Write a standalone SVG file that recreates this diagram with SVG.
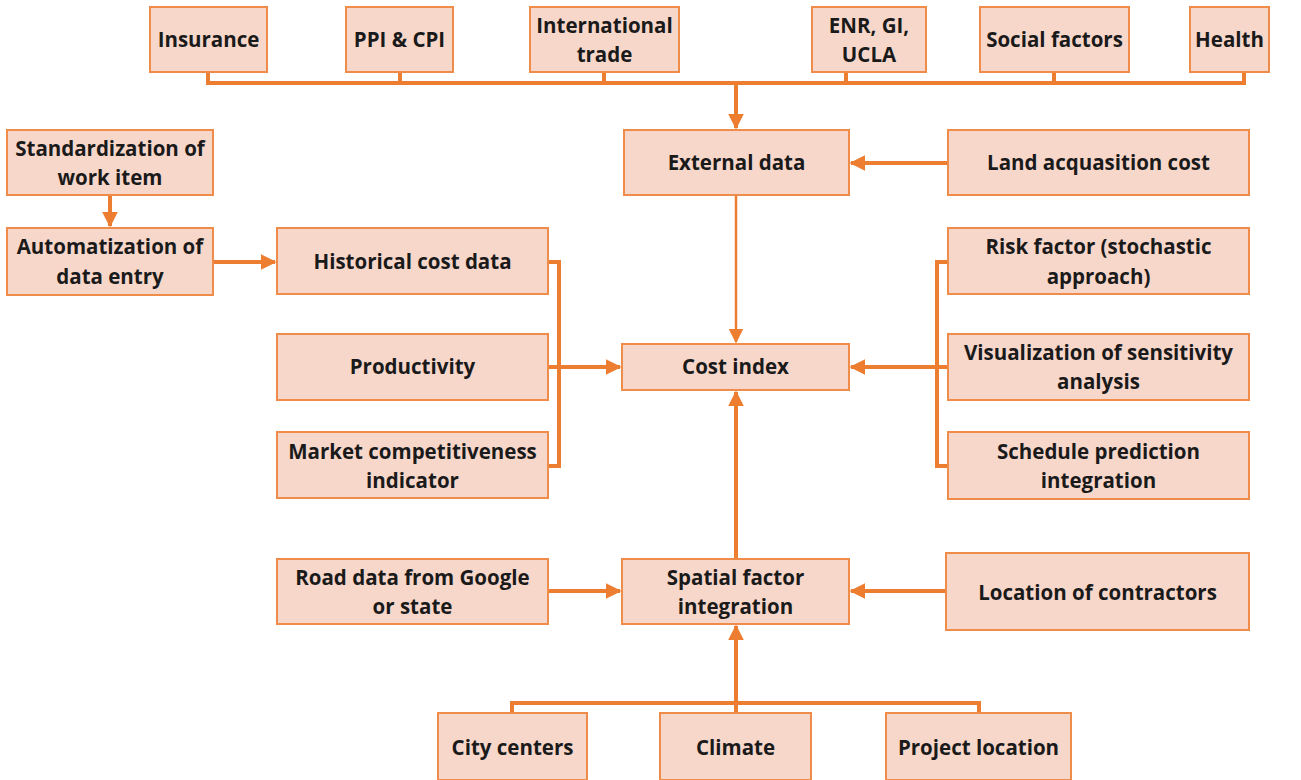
<svg xmlns="http://www.w3.org/2000/svg" width="1301" height="780" viewBox="0 0 1301 780">
<defs>
<style>
.box{fill:#f8d7cb;stroke:#ef8c4a;stroke-width:2}
.t{font-family:"Open Sans","Liberation Sans",sans-serif;font-weight:bold;font-size:20.5px;fill:#1a1a1a;text-anchor:middle}
.c{fill:none;stroke:#ed7d31;stroke-width:4;stroke-linejoin:miter}
.thin{fill:none;stroke:#ed7d31;stroke-width:2.5}
</style>
<marker id="ah" viewBox="0 0 10 10" refX="9" refY="5" markerWidth="4" markerHeight="4" markerUnits="strokeWidth" orient="auto"><path d="M0,0L10,5L0,10z" fill="#ed7d31"/></marker>
<marker id="ah2" viewBox="0 0 10 10" refX="9" refY="5" markerWidth="6" markerHeight="6" markerUnits="strokeWidth" orient="auto"><path d="M0,0L10,5L0,10z" fill="#ed7d31"/></marker>
</defs>
<rect width="1301" height="780" fill="#fff"/>
<g id="connectors">
<path class="c" d="M208,72V83H1244V72M400,72V83M604,72V83M846,72V83M1054,72V83"/>
<path class="c" d="M736,83V128" marker-end="url(#ah)"/>
<path class="c" d="M948,163H851" marker-end="url(#ah)"/>
<path class="c" d="M110,195V226" marker-end="url(#ah)"/>
<path class="c" d="M213,262H275" marker-end="url(#ah)"/>
<path class="c" d="M548,262H559V466H548"/>
<path class="c" d="M548,367H620" marker-end="url(#ah)"/>
<path class="thin" d="M736,195V342" marker-end="url(#ah2)"/>
<path class="c" d="M948,262H937V466H948"/>
<path class="c" d="M948,367H851" marker-end="url(#ah)"/>
<path class="c" d="M736,559V392" marker-end="url(#ah)"/>
<path class="c" d="M548,591H620" marker-end="url(#ah)"/>
<path class="c" d="M946,591H851" marker-end="url(#ah)"/>
<path class="c" d="M512,713V703H979V713"/>
<path class="c" d="M736,713V626" marker-end="url(#ah)"/>
</g>
<g id="insurance"><rect class="box" x="150" y="7" width="117" height="65"/><text class="t" x="208.5" y="47">Insurance</text></g>
<g id="ppi"><rect class="box" x="346" y="7" width="107" height="65"/><text class="t" x="399.5" y="47">PPI &amp; CPI</text></g>
<g id="trade"><rect class="box" x="530" y="7" width="149" height="65"/><text class="t" x="604.5" y="33">International</text><text class="t" x="604.5" y="62">trade</text></g>
<g id="enr"><rect class="box" x="812" y="7" width="114" height="65"/><text class="t" x="869" y="33">ENR, GI,</text><text class="t" x="869" y="62">UCLA</text></g>
<g id="social"><rect class="box" x="980" y="7" width="149" height="65"/><text class="t" x="1054.5" y="47">Social factors</text></g>
<g id="health"><rect class="box" x="1190" y="7" width="79" height="65"/><text class="t" x="1229.5" y="47">Health</text></g>
<g id="external"><rect class="box" x="624" y="130" width="225" height="65"/><text class="t" x="736.5" y="170">External data</text></g>
<g id="land"><rect class="box" x="948" y="130" width="301" height="65"/><text class="t" x="1098.5" y="170">Land acquasition cost</text></g>
<g id="standard"><rect class="box" x="7" y="130" width="206" height="65"/><text class="t" x="110" y="156">Standardization of</text><text class="t" x="110" y="185">work item</text></g>
<g id="auto"><rect class="box" x="7" y="228" width="206" height="67"/><text class="t" x="110" y="254">Automatization of</text><text class="t" x="110" y="284">data entry</text></g>
<g id="historical"><rect class="box" x="277" y="228" width="271" height="66"/><text class="t" x="412.5" y="269">Historical cost data</text></g>
<g id="productivity"><rect class="box" x="277" y="334" width="271" height="66"/><text class="t" x="412.5" y="374">Productivity</text></g>
<g id="market"><rect class="box" x="277" y="432" width="271" height="66"/><text class="t" x="412.5" y="459">Market competitiveness</text><text class="t" x="412.5" y="488">indicator</text></g>
<g id="costindex"><rect class="box" x="622" y="344" width="227" height="46"/><text class="t" x="735.5" y="374">Cost index</text></g>
<g id="risk"><rect class="box" x="948" y="228" width="301" height="66"/><text class="t" x="1098.5" y="254">Risk factor (stochastic</text><text class="t" x="1098.5" y="284">approach)</text></g>
<g id="visual"><rect class="box" x="948" y="334" width="301" height="66"/><text class="t" x="1098.5" y="360">Visualization of sensitivity</text><text class="t" x="1098.5" y="389">analysis</text></g>
<g id="schedule"><rect class="box" x="948" y="432" width="301" height="67"/><text class="t" x="1098.5" y="459">Schedule prediction</text><text class="t" x="1098.5" y="488">integration</text></g>
<g id="spatial"><rect class="box" x="622" y="559" width="227" height="65"/><text class="t" x="735.5" y="585">Spatial factor</text><text class="t" x="735.5" y="614">integration</text></g>
<g id="road"><rect class="box" x="277" y="559" width="271" height="65"/><text class="t" x="412.5" y="585">Road data from Google</text><text class="t" x="412.5" y="614">or state</text></g>
<g id="contractors"><rect class="box" x="946" y="553" width="303" height="77"/><text class="t" x="1097.5" y="600">Location of contractors</text></g>
<g id="city"><rect class="box" x="438" y="713" width="149" height="67"/><text class="t" x="512.5" y="755">City centers</text></g>
<g id="climate"><rect class="box" x="660" y="713" width="151" height="67"/><text class="t" x="735.5" y="755">Climate</text></g>
<g id="project"><rect class="box" x="886" y="713" width="185" height="67"/><text class="t" x="978.5" y="755">Project location</text></g>
</svg>
